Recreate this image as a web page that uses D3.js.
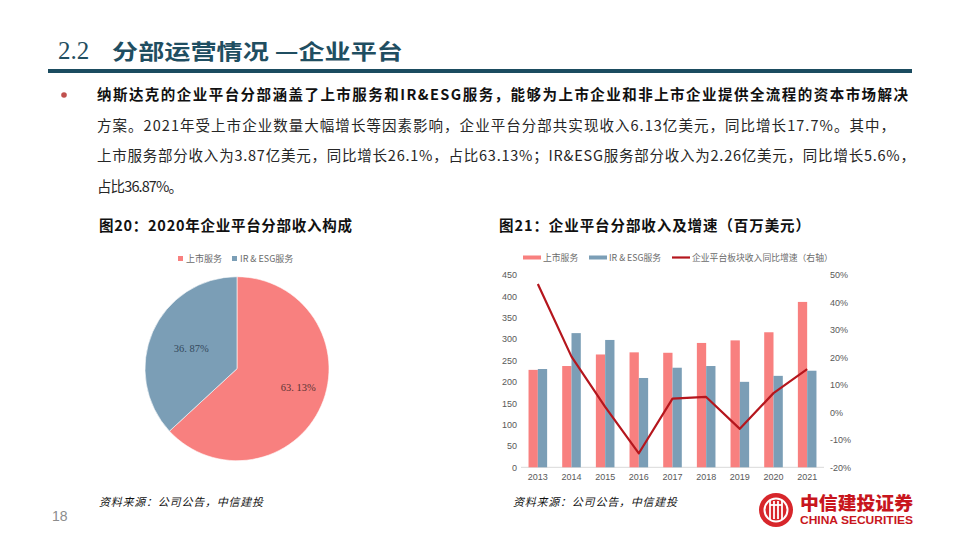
<!DOCTYPE html>
<html><head><meta charset="utf-8">
<script src="https://cdn.jsdelivr.net/npm/d3@7"></script>
<style>
html,body{margin:0;padding:0;background:#fff;}
svg{display:block;}
</style></head>
<body>
<svg id="c" width="960" height="540"></svg>
<script>
// ---- data ----
const years = ["2013","2014","2015","2016","2017","2018","2019","2020","2021"];
const listingRevenue = [228, 237, 264, 269, 268, 291, 297, 316, 387];
const irEsgRevenue   = [230, 314, 298, 209, 233, 237, 200, 214, 226];
const yoyGrowth      = [46.7, 20.3, 2.0, -14.9, 5.0, 5.6, -6.0, 7.0, 15.7];
const leftTicks  = [0, 50, 100, 150, 200, 250, 300, 350, 400, 450];
const rightTicks = [-20, -10, 0, 10, 20, 30, 40, 50];
const pieLabels  = ["上市服务", "IR & ESG服务"];
const pieValues  = [63.13, 36.87];
const seriesNames = ["上市服务", "IR & ESG服务", "企业平台板块收入同比增速（右轴）"];
const bodyLines = [
  "纳斯达克的企业平台分部涵盖了上市服务和IR&ESG服务，能够为上市企业和非上市企业提供全流程的资本市场解决",
  "方案。2021年受上市企业数量大幅增长等因素影响，企业平台分部共实现收入6.13亿美元，同比增长17.7%。其中，",
  "上市服务部分收入为3.87亿美元，同比增长26.1%，占比63.13%；IR&ESG服务部分收入为2.26亿美元，同比增长5.6%，",
  "占比36.87%。"
];

const RED = "#F8807F", BLUE = "#7B9EB6", LINE = "#B5161D";
const CJK = "'Noto Sans CJK SC', sans-serif";
const svg = d3.select("#c");

// ---- header ----
const head = svg.append("text").attr("x", 58).attr("y", 59).attr("fill", "#1F4E61");
head.append("tspan").attr("font-family", "'Liberation Serif', serif").attr("font-size", 25).text("2.2 ");
head.append("tspan").attr("font-family", CJK).attr("font-weight", 700).attr("font-size", 21)
  .attr("x", 112).attr("textLength", 291).attr("lengthAdjust", "spacingAndGlyphs").text("分部运营情况 —企业平台");
svg.append("rect").attr("x", 48).attr("y", 69).attr("width", 864).attr("height", 4).attr("fill", "#1B4C60");

// ---- bullet paragraph ----
svg.append("circle").attr("cx", 64).attr("cy", 95).attr("r", 2.8).attr("fill", "#C0504D");
const lineEnds = [908, 895, 915, 183];
bodyLines.forEach((t, i) => {
  svg.append("text").attr("x", 97).attr("y", 100 + i * 30.6)
    .attr("font-family", CJK).attr("font-size", 14.5)
    .attr("font-weight", i === 0 ? 700 : 400)
    .attr("fill", i === 0 ? "#111" : "#262626")
    .attr("textLength", lineEnds[i] - 97).attr("lengthAdjust", "spacing")
    .text(t);
});

// ---- chart titles ----
svg.append("text").attr("x", 99).attr("y", 231).attr("font-family", CJK).attr("font-weight", 700)
  .attr("font-size", 14.5).attr("fill", "#111").attr("textLength", 253).attr("lengthAdjust", "spacing")
  .text("图20：2020年企业平台分部收入构成");
svg.append("text").attr("x", 499).attr("y", 231).attr("font-family", CJK).attr("font-weight", 700)
  .attr("font-size", 14.5).attr("fill", "#111").attr("textLength", 311).attr("lengthAdjust", "spacing")
  .text("图21：企业平台分部收入及增速（百万美元）");

// ---- pie ----
const pieColors = [RED, BLUE];
const pieG = svg.append("g").attr("transform", "translate(237,368.7)");
const arcs = d3.pie().sort(null).value(d => d)(pieValues);
const arc = d3.arc().innerRadius(0).outerRadius(92);
pieG.selectAll("path").data(arcs).enter().append("path")
  .attr("d", arc).attr("fill", (d, i) => pieColors[i]).attr("stroke", "#fff").attr("stroke-width", 0.6);
const labelRadius = [64, 50];
const labelAngleShift = [-0.12, 0];
const labelColors = ["#5b3434", "#34495c"];
pieG.selectAll("text.pl").data(arcs).enter().append("text")
  .attr("transform", (d, i) => {
    const a = (d.startAngle + d.endAngle) / 2 + labelAngleShift[i];
    const r = labelRadius[i];
    return `translate(${r * Math.sin(a)},${-r * Math.cos(a)})`;
  })
  .attr("text-anchor", "middle").attr("dy", "0.35em")
  .attr("font-family", "'Liberation Serif', serif").attr("font-size", 10.5)
  .attr("fill", (d, i) => labelColors[i])
  .text(d => d.data.toFixed(2).replace(".", ". ") + "%");

// pie legend
const pieLeg = [{x: 178}, {x: 232}];
pieLabels.forEach((l, i) => {
  svg.append("rect").attr("x", pieLeg[i].x).attr("y", 256).attr("width", 5).attr("height", 5).attr("fill", pieColors[i]);
  svg.append("text").attr("x", pieLeg[i].x + 8).attr("y", 261.5).attr("font-family", CJK)
    .attr("font-size", 9).attr("fill", "#6b6b6b").text(l);
});

// ---- bar + line chart ----
const x0 = d3.scaleBand().domain(years).range([521, 824]).padding(0);
const x1 = d3.scaleBand().domain([0, 1]).range([0, x0.bandwidth()]).paddingInner(0).paddingOuter(0.81);
const yL = d3.scaleLinear().domain([0, 450]).range([467.3, 275]);
const yR = d3.scaleLinear().domain([-20, 50]).range([467.3, 275]);

const axFont = "'Liberation Sans', Arial, sans-serif";
const gL = svg.append("g").attr("transform", "translate(517,0)")
  .call(d3.axisLeft(yL).tickValues(leftTicks).tickSize(0).tickPadding(0));
const gR = svg.append("g").attr("transform", "translate(830,0)")
  .call(d3.axisRight(yR).tickValues(rightTicks).tickSize(0).tickPadding(0).tickFormat(d => d + "%"));
const gX = svg.append("g").attr("transform", "translate(0,467.3)")
  .call(d3.axisBottom(x0).tickSize(0).tickPadding(6));
[gL, gR, gX].forEach(g => {
  g.select(".domain").remove();
  g.selectAll("text").attr("font-family", axFont).attr("font-size", 9).attr("fill", "#595959");
});
svg.append("line").attr("x1", x0.range()[0]).attr("x2", x0.range()[1]).attr("y1", yL(0)).attr("y2", yL(0))
  .attr("stroke", "#d9d9d9").attr("stroke-width", 1);

const bars = svg.append("g");
years.forEach((yr, i) => {
  [listingRevenue[i], irEsgRevenue[i]].forEach((v, k) => {
    bars.append("rect").attr("x", x0(yr) + x1(k)).attr("width", x1.bandwidth())
      .attr("y", yL(v)).attr("height", yL(0) - yL(v)).attr("fill", k === 0 ? RED : BLUE);
  });
});

const line = d3.line().x((d, i) => x0(years[i]) + x0.bandwidth() / 2).y(d => yR(d));
svg.append("path").datum(yoyGrowth).attr("d", line).attr("fill", "none")
  .attr("stroke", LINE).attr("stroke-width", 2.2).attr("stroke-linejoin", "round");

// bar legend
const legItems = [{x: 523, c: RED, type: "bar"}, {x: 589, c: BLUE, type: "bar"}, {x: 672, c: LINE, type: "line"}];
legItems.forEach((it, i) => {
  if (it.type === "bar") {
    svg.append("rect").attr("x", it.x).attr("y", 255.5).attr("width", 18).attr("height", 4).attr("fill", it.c);
  } else {
    svg.append("line").attr("x1", it.x).attr("x2", it.x + 18).attr("y1", 257.5).attr("y2", 257.5)
      .attr("stroke", it.c).attr("stroke-width", 2.2);
  }
  svg.append("text").attr("x", it.x + 20).attr("y", 261).attr("font-family", CJK)
    .attr("font-size", 8.8).attr("fill", "#6b6b6b").text(seriesNames[i]);
});

// ---- footer ----
[99, 513].forEach(x => {
  svg.append("text").attr("x", x).attr("y", 506).attr("font-family", CJK).attr("font-size", 11)
    .attr("font-style", "italic").attr("fill", "#111")
    .attr("textLength", 164).attr("lengthAdjust", "spacing")
    .text("资料来源：公司公告，中信建投");
});
svg.append("text").attr("x", 52).attr("y", 521).attr("font-family", axFont).attr("font-size", 14)
  .attr("fill", "#8c8c8c").text("18");

// logo
const logo = svg.append("g").attr("transform", "translate(776,510)");
logo.append("circle").attr("r", 17).attr("fill", "#D7262B");
logo.append("circle").attr("r", 11.5).attr("fill", "none").attr("stroke", "#fff").attr("stroke-width", 2);
[-6, -2, 2, 6].forEach(dx => {
  logo.append("line").attr("x1", dx).attr("x2", dx).attr("y1", -9).attr("y2", 9).attr("stroke", "#fff").attr("stroke-width", 1.8);
});
logo.append("line").attr("x1", -6).attr("x2", 6).attr("y1", -5).attr("y2", -5).attr("stroke", "#fff").attr("stroke-width", 1.8);
svg.append("text").attr("x", 800).attr("y", 510).attr("font-family", CJK).attr("font-weight", 900)
  .attr("font-size", 18).attr("fill", "#C8161D").attr("textLength", 113).attr("lengthAdjust", "spacingAndGlyphs")
  .text("中信建投证券");
svg.append("text").attr("x", 800).attr("y", 523.5).attr("font-family", "'Liberation Sans', Arial, sans-serif")
  .attr("font-weight", 700).attr("font-size", 11).attr("fill", "#C8161D")
  .attr("textLength", 113).attr("lengthAdjust", "spacingAndGlyphs").text("CHINA SECURITIES");
</script>
</body></html>
